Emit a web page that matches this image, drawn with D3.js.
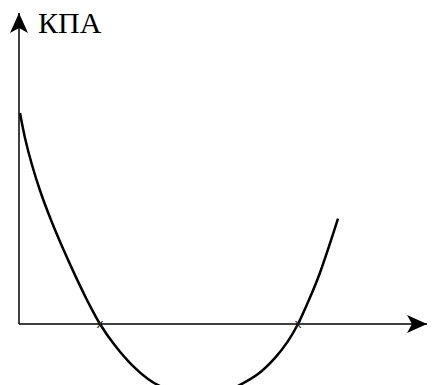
<!DOCTYPE html>
<html>
<head>
<meta charset="utf-8">
<script src="https://cdn.jsdelivr.net/npm/d3@7"></script>
<style>
  body { margin: 0; background: #fff; }
  svg { display: block; }
</style>
</head>
<body>
<div id="chart"></div>
<script>
// curve samples (x, y) in axis units
const curveX = [0.025, 0.147, 0.319, 0.515, 0.76, 1.054, 1.373, 1.667, 1.985, 2.353, 2.77, 3.162, 3.456, 3.946, 4.41, 4.926, 5.417, 5.858, 6.275, 6.593, 6.838, 7.132, 7.377, 7.819];
const curveY = [7.03, 6.2, 5.3, 4.45, 3.55, 2.59, 1.63, 0.8, 0, -0.72, -1.37, -1.83, -2.07, -2.33, -2.4, -2.33, -2.03, -1.67, -1.13, -0.57, 0, 0.88, 1.71, 3.51];
// zero crossings marked with "x"
const roots = [1.985, 6.838];
const axisLabel = "КПА";

const width = 438;
const height = 385;

const svg = d3
  .select("#chart")
  .append("svg")
  .attr("width", width)
  .attr("height", height);

const xScale = d3.scaleLinear().domain([0, 10]).range([19, 427]);
const yScale = d3.scaleLinear().domain([0, 10]).range([324, 24]);

svg
  .append("defs")
  .append("marker")
  .attr("id", "arrow")
  .attr("viewBox", "0 0 20 20")
  .attr("refX", 20)
  .attr("refY", 10)
  .attr("markerWidth", 21)
  .attr("markerHeight", 20)
  .attr("markerUnits", "userSpaceOnUse")
  .attr("orient", "auto")
  .append("path")
  .attr("d", "M0,1 L20,10 L0,19 L5,10 Z")
  .attr("fill", "#000");

// y axis
svg
  .append("line")
  .attr("x1", xScale(0))
  .attr("y1", yScale(0))
  .attr("x2", xScale(0))
  .attr("y2", 13)
  .attr("stroke", "#000")
  .attr("stroke-width", 1.5)
  .attr("marker-end", "url(#arrow)");

// x axis
svg
  .append("line")
  .attr("x1", xScale(0))
  .attr("y1", yScale(0))
  .attr("x2", xScale(10))
  .attr("y2", yScale(0))
  .attr("stroke", "#000")
  .attr("stroke-width", 1.5)
  .attr("marker-end", "url(#arrow)");

svg
  .append("text")
  .attr("x", 38)
  .attr("y", 33)
  .attr("font-family", "Liberation Serif, Times New Roman, serif")
  .attr("font-size", 30)
  .attr("fill", "#000")
  .text(axisLabel);

const points = curveX.map((x, i) => [x, curveY[i]]);

const line = d3
  .line()
  .x((d) => xScale(d[0]))
  .y((d) => yScale(d[1]))
  .curve(d3.curveCatmullRom.alpha(0.5));

svg
  .append("path")
  .datum(points)
  .attr("d", line)
  .attr("fill", "none")
  .attr("stroke", "#000")
  .attr("stroke-width", 2.5);

svg
  .selectAll(".root")
  .data(roots)
  .enter()
  .append("text")
  .attr("class", "root")
  .attr("x", (d) => xScale(d))
  .attr("y", yScale(0) + 4)
  .attr("text-anchor", "middle")
  .attr("font-family", "DejaVu Sans, sans-serif")
  .attr("font-size", 12)
  .attr("fill", "#222")
  .text("x");
</script>
</body>
</html>
